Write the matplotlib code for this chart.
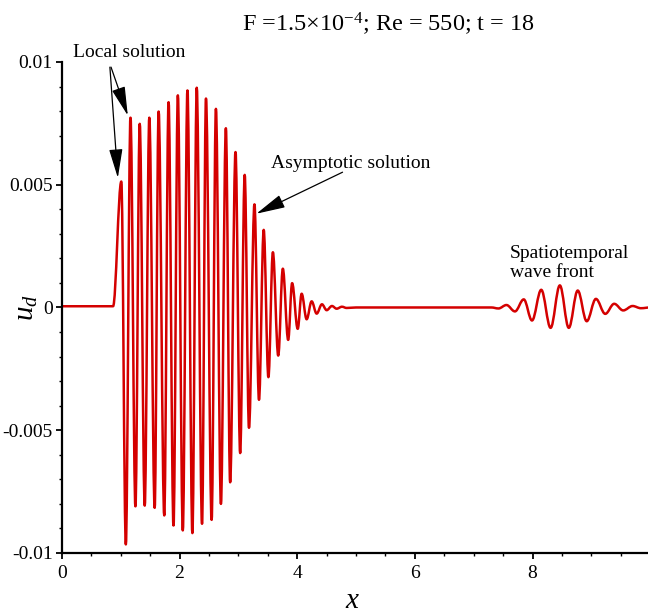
import matplotlib
matplotlib.use("Agg")
from matplotlib import pyplot as plt
from matplotlib.path import Path
from matplotlib.patches import PathPatch
from matplotlib.ticker import MultipleLocator

plt.rcParams['font.family'] = 'serif'
plt.rcParams['font.serif'] = ['Liberation Serif', 'DejaVu Serif']
plt.rcParams['mathtext.fontset'] = 'custom'
plt.rcParams['mathtext.rm'] = 'Liberation Serif'
plt.rcParams['mathtext.it'] = 'Liberation Serif:italic'

# crests and troughs of u_d along x (flat stretches given by their end points)
x_knots = [0.00, 0.87, 1.010, 1.087, 1.166, 1.250, 1.323, 1.408, 1.486,
           1.577, 1.644, 1.740, 1.813, 1.897, 1.971, 2.055, 2.134, 2.218, 2.292,
           2.382, 2.449, 2.545, 2.618, 2.703, 2.787, 2.860, 2.951, 3.030, 3.107,
           3.180, 3.273, 3.350, 3.430, 3.510, 3.586, 3.677, 3.755, 3.846, 3.913,
           4.008, 4.075, 4.160, 4.245, 4.330, 4.420, 4.500, 4.590, 4.670, 4.760,
           4.840, 5.000, 7.300, 7.420, 7.556, 7.700, 7.850, 7.990, 8.147, 8.306,
           8.463, 8.615, 8.767, 8.920, 9.076, 9.235, 9.387, 9.540, 9.700, 9.840,
           10.00]
u_knots = [0.00005, 0.00005, 0.00513, -0.00965, 0.00773, -0.00810, 0.00748, -0.00807, 0.00773,
           -0.00816, 0.00798, -0.00847, 0.00836, -0.00888, 0.00864, -0.00908, 0.00884, -0.00919, 0.00895,
           -0.00881, 0.00851, -0.00865, 0.00809, -0.00800, 0.00730, -0.00712, 0.00633, -0.00593, 0.00540,
           -0.00490, 0.00420, -0.00376, 0.00316, -0.00284, 0.00225, -0.00196, 0.00158, -0.00132, 0.00099,
           -0.00087, 0.00056, -0.00048, 0.00025, -0.00025, 0.00013, -0.00011, 0.00006, -0.00005, 0.00003,
           -0.00002, 0.00000, 0.00000, -0.00004, 0.00010, -0.00016, 0.00033, -0.00053, 0.00072, -0.00083,
           0.00090, -0.00083, 0.00069, -0.00056, 0.00035, -0.00026, 0.00015, -0.00012, 0.00006, -0.00003,
           0.00000]

y_ticks = [-0.01, -0.005, 0, 0.005, 0.01]
y_tick_labels = ['-0.01', '-0.005', '0', '0.005', '0.01']
x_ticks = [0, 2, 4, 6, 8]


def wave_path(xs, us, k=0.364):
    # cubic pieces with flat tangents at every knot (half-cosine like arcs)
    verts = [(xs[0], us[0])]
    codes = [Path.MOVETO]
    for i in range(1, len(xs)):
        dx = xs[i] - xs[i - 1]
        verts += [(xs[i - 1] + k * dx, us[i - 1]), (xs[i] - k * dx, us[i]), (xs[i], us[i])]
        codes += [Path.CURVE4] * 3
    return Path(verts, codes)


fig = plt.figure(figsize=(6.48, 6.16), dpi=100)
ax = fig.add_axes([0.0955, 0.1023, 0.908, 0.7971])

ax.add_patch(PathPatch(wave_path(x_knots, u_knots), facecolor='none',
                       edgecolor='#d40000', lw=1.8, capstyle='round', joinstyle='round'))

ax.set_xlim(0, 10)
ax.set_ylim(-0.01, 0.01)
ax.set_xticks(x_ticks)
ax.set_xticklabels([str(t) for t in x_ticks])
ax.set_yticks(y_ticks)
ax.set_yticklabels(y_tick_labels)
ax.xaxis.set_minor_locator(MultipleLocator(0.5))
ax.yaxis.set_minor_locator(MultipleLocator(0.001))
ax.tick_params(which='major', direction='out', length=4.5, width=1.3, labelsize=14, pad=2)
ax.tick_params(axis='x', which='major', pad=4)
ax.tick_params(which='minor', direction='out', length=2.5, width=1.0)
for side in ['top', 'right']:
    ax.spines[side].set_visible(False)
for side in ['left', 'bottom']:
    ax.spines[side].set_linewidth(1.6)

ax.set_xlabel('$x$', fontsize=21)
ax.xaxis.set_label_coords(0.494, -0.071)
ax.set_ylabel('$u_d$', fontsize=21)
ax.yaxis.set_label_coords(-0.038, 0.5)

fig.text(0.600, 0.951, 'F =1.5×10$^{-4}$; Re = 550; t = 18', fontsize=17.5,
         ha='center', va='baseline')

arrow = dict(arrowstyle='-|>,head_length=1.5,head_width=0.35', color='black',
             lw=0.9, mutation_scale=12, shrinkA=0, shrinkB=0)

ax.text(1.15, 0.01039, 'Local solution', fontsize=14, ha='center', va='center')
ax.annotate('', xy=(0.951, 0.00528), xytext=(0.816, 0.00979),
            arrowprops=arrow, annotation_clip=False)
ax.annotate('', xy=(1.12, 0.00782), xytext=(0.835, 0.00979),
            arrowprops=arrow, annotation_clip=False)

ax.text(4.90, 0.00587, 'Asymptotic solution', fontsize=14, ha='center', va='center')
ax.annotate('', xy=(3.306, 0.00382), xytext=(4.77, 0.00551),
            arrowprops=arrow, annotation_clip=False)

ax.text(7.62, 0.00183, 'Spatiotemporal\nwave front', fontsize=14,
        ha='left', va='center', linespacing=1.15)

fig.savefig('out.png', dpi=100)
